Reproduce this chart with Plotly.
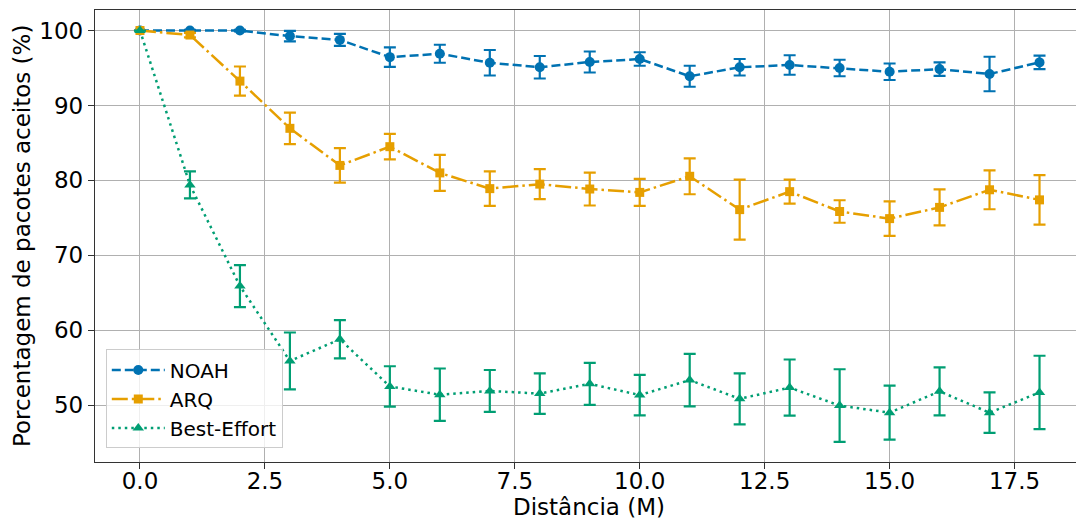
import plotly.graph_objects as go

distancia = list(range(19))

noah = [100, 100, 100, 99.25, 98.75, 96.45, 96.9, 95.7, 95.1, 95.8, 96.2, 93.9, 95.1, 95.4, 95.0, 94.5, 94.85, 94.2, 95.75]
noah_err = [0, 0.1, 0.1, 0.7, 0.8, 1.3, 1.2, 1.7, 1.5, 1.4, 0.9, 1.4, 1.1, 1.3, 1.1, 1.1, 0.9, 2.3, 0.9]

arq = [100, 99.4, 93.25, 86.95, 82.0, 84.5, 81.0, 78.9, 79.5, 78.85, 78.4, 80.55, 76.1, 78.5, 75.85, 74.9, 76.4, 78.75, 77.4]
arq_err = [0, 0.3, 1.95, 2.1, 2.3, 1.7, 2.4, 2.3, 2.0, 2.2, 1.8, 2.4, 4.0, 1.6, 1.5, 2.3, 2.4, 2.6, 3.3]

best = [100, 79.4, 65.9, 55.9, 58.8, 52.5, 51.4, 51.9, 51.55, 52.85, 51.35, 53.35, 50.85, 52.35, 49.95, 49.0, 51.85, 49.0, 51.7]
best_err = [0, 1.8, 2.8, 3.8, 2.55, 2.7, 3.5, 2.8, 2.7, 2.8, 2.7, 3.5, 3.4, 3.75, 4.85, 3.6, 3.2, 2.7, 4.9]

x_ticks = [0, 2.5, 5, 7.5, 10, 12.5, 15, 17.5]
y_ticks = [50, 60, 70, 80, 90, 100]

series = [
    ("NOAH", noah, noah_err, "#0072B2", "circle", "9px,4px", 10),
    ("ARQ", arq, arq_err, "#E69F00", "square", "16px,4px,2.5px,4px", 9),
    ("Best-Effort", best, best_err, "#009E73", "triangle-up", "2.5px,4px", 10),
]

fig = go.Figure()
for name, vals, errs, color, sym, dash, msize in series:
    fig.add_trace(go.Scatter(
        x=distancia, y=vals, name=name, mode="lines+markers",
        line=dict(color=color, width=2.5, dash=dash),
        marker=dict(symbol=sym, size=msize, color=color),
        error_y=dict(type="data", array=errs, visible=True, color=color, thickness=2.2, width=6),
    ))

font = "DejaVu Sans, sans-serif"
fig.update_layout(
    width=1076, height=520,
    margin=dict(l=95, r=0, t=10, b=58),
    paper_bgcolor="white", plot_bgcolor="white",
    font=dict(family=font, size=23, color="black"),
    showlegend=True,
    legend=dict(
        x=0.011, y=0.03, xanchor="left", yanchor="bottom",
        bgcolor="rgba(255,255,255,0.8)", bordercolor="#cccccc", borderwidth=1,
        font=dict(family=font, size=20, color="black"),
        itemwidth=53, tracegroupgap=0,
    ),
    xaxis=dict(
        range=[-0.9, 18.73], tickmode="array",
        tickvals=x_ticks, tickformat=".1f",
        showgrid=True, gridcolor="#b0b0b0", gridwidth=1.3,
        showline=True, linecolor="#333333", linewidth=1.3, mirror=True,
        ticks="outside", ticklen=6, tickwidth=1.3, tickcolor="#333333",
        zeroline=False, automargin=False, ticklabelstandoff=-8,
        tickfont=dict(size=23),
    ),
    yaxis=dict(
        range=[42.42, 102.74], tickmode="array",
        tickvals=y_ticks,
        showgrid=True, gridcolor="#b0b0b0", gridwidth=1.3,
        showline=True, linecolor="#333333", linewidth=1.3, mirror=False,
        ticks="outside", ticklen=6, tickwidth=1.3, tickcolor="#333333",
        zeroline=False, automargin=False,
        tickfont=dict(size=23),
    ),
    annotations=[
        dict(text="Distância (M)", xref="paper", yref="paper", x=0.504, y=0,
             xanchor="center", yanchor="middle", yshift=-45, showarrow=False,
             font=dict(family=font, size=23, color="black")),
        dict(text="Porcentagem de pacotes aceitos (%)", xref="paper", yref="paper",
             x=0, y=0.5, xanchor="center", yanchor="middle", xshift=-73,
             textangle=-90, showarrow=False,
             font=dict(family=font, size=23, color="black")),
    ],
)

fig.write_html(
    "out.html",
    config={"displayModeBar": False},
    post_script="document.body.style.margin='0';document.body.style.overflow='hidden';",
)
